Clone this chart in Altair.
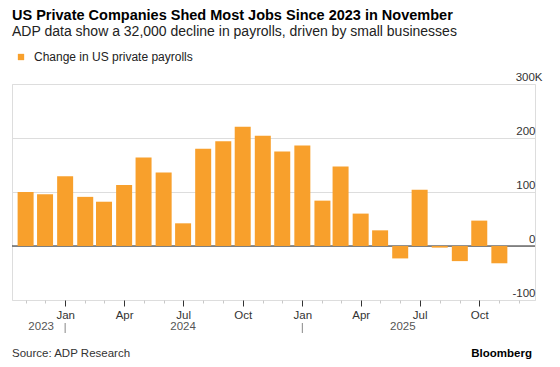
import altair as alt
import pandas as pd

# ---- data ----
months = ["2023-11", "2023-12", "2024-01", "2024-02", "2024-03", "2024-04", "2024-05",
          "2024-06", "2024-07", "2024-08", "2024-09", "2024-10", "2024-11", "2024-12",
          "2025-01", "2025-02", "2025-03", "2025-04", "2025-05", "2025-06", "2025-07",
          "2025-08", "2025-09", "2025-10", "2025-11"]
values = [100, 96, 129, 91, 82, 113, 164, 136, 42, 180, 194, 221, 204, 175,
          186, 84, 147, 60, 29, -23, 104, -3, -28, 47, -32]
series_name = "Change in US private payrolls"
y_ticks = [-100, 0, 100, 200, 300]
years = ["2023", "2024", "2025"]
year_label_dates = ["2023-11-25", "2024-07-01", "2025-06-05"]
year_breaks = ["2024-01-01", "2025-01-01"]

title_text = "US Private Companies Shed Most Jobs Since 2023 in November"
subtitle_text = "ADP data show a 32,000 decline in payrolls, driven by small businesses"
source_text = "Source: ADP Research"
brand_text = "Bloomberg"

FONT = "Liberation Sans"
ORANGE = "#F8A02C"

df = pd.DataFrame({
    "date": pd.to_datetime([m + "-01" for m in months]),
    "value": values,
    "series": series_name,
})
years_df = pd.DataFrame({"date": pd.to_datetime(year_label_dates), "year": years})
breaks_df = pd.DataFrame({"date": pd.to_datetime(year_breaks)})

x_scale = alt.Scale(domain=[alt.DateTime(year=2023, month=10, date=11),
                            alt.DateTime(year=2025, month=12, date=26)],
                    nice=False, padding=0)
y_scale = alt.Scale(domain=[-100, 300], nice=False)

is_q = "month(datum.value) % 3 == 0"

x_axis = alt.Axis(
    title=None,
    tickCount={"interval": "month", "step": 1},
    labelExpr=f"{is_q} ? timeFormat(datum.value, '%b') : ''",
    labelOverlap=False,
    labelFlush=False,
    labelFont=FONT,
    labelFontSize=11.5,
    labelColor="#333333",
    labelPadding=3,
    domain=False,
    grid=False,
    tickSize={"condition": {"test": is_q, "value": 6}, "value": 3},
    tickColor={"condition": {"test": is_q, "value": "#333333"}, "value": "#c8c8c8"},
    tickWidth=1,
)

y_axis = alt.Axis(
    title=None,
    orient="right",
    values=y_ticks,
    labelExpr="datum.value == 300 ? '300K' : '' + datum.value",
    grid=True,
    gridColor="#dddddd",
    ticks=False,
    domain=False,
    labelAlign="right",
    labelBaseline="alphabetic",
    labelPadding={"condition": {"test": "datum.value == 300", "value": 7}, "value": 0},
    labelOffset=-4,
    labelFont=FONT,
    labelFontSize=11.5,
    labelColor="#333333",
)

bars = alt.Chart(df).mark_bar(size=16).encode(
    x=alt.X("date:T", scale=x_scale, axis=x_axis),
    y=alt.Y("value:Q", scale=y_scale, axis=y_axis),
    color=alt.Color("series:N", scale=alt.Scale(range=[ORANGE]),
                    legend=alt.Legend(title=None, orient="none", legendX=3, legendY=-33,
                                      symbolType="square", symbolSize=40,
                                      symbolStrokeWidth=0,
                                      labelFont=FONT, labelFontSize=12,
                                      labelColor="#222222", labelOffset=7,
                                      padding=0)),
)

zero = alt.Chart(pd.DataFrame({"y": [0]})).mark_rule(color="#222222", strokeWidth=1).encode(
    y=alt.Y("y:Q", scale=y_scale)
)

year_text = alt.Chart(years_df).mark_text(
    font=FONT, fontSize=11.5, color="#555555", baseline="middle", align="center"
).encode(
    x=alt.X("date:T", scale=x_scale),
    y=alt.value(243),
    text="year:N",
)

seps = alt.Chart(breaks_df).mark_rule(color="#888888", strokeWidth=1).encode(
    x=alt.X("date:T", scale=x_scale),
    y=alt.value(239),
    y2=alt.value(249),
)

title = alt.Chart(pd.DataFrame({"t": [title_text]})).mark_text(
    font=FONT, fontSize=14.5, fontWeight="bold", color="#000000", align="left",
    baseline="alphabetic"
).encode(x=alt.value(0), y=alt.value(-64), text="t:N")

subtitle = alt.Chart(pd.DataFrame({"t": [subtitle_text]})).mark_text(
    font=FONT, fontSize=14, color="#222222", align="left", baseline="alphabetic"
).encode(x=alt.value(0), y=alt.value(-48), text="t:N")

source = alt.Chart(pd.DataFrame({"t": [source_text]})).mark_text(
    font=FONT, fontSize=11.5, color="#333333", align="left", baseline="middle"
).encode(x=alt.value(0), y=alt.value(270), text="t:N")

brand = alt.Chart(pd.DataFrame({"t": [brand_text]})).mark_text(
    font=FONT, fontSize=11.5, fontWeight="bold", color="#000000", align="right",
    baseline="middle"
).encode(x=alt.value(520), y=alt.value(270), text="t:N")

chart = alt.layer(zero, bars, year_text, seps, title, subtitle, source, brand).properties(
    width=523,
    height=216,
    autosize=alt.AutoSizeParams(type="none"),
    padding={"left": 4, "top": 76, "right": 15, "bottom": 65},
).configure_view(stroke=None).configure(background="white")

chart.save("out.html", embed_options={"renderer": "svg", "actions": False})
